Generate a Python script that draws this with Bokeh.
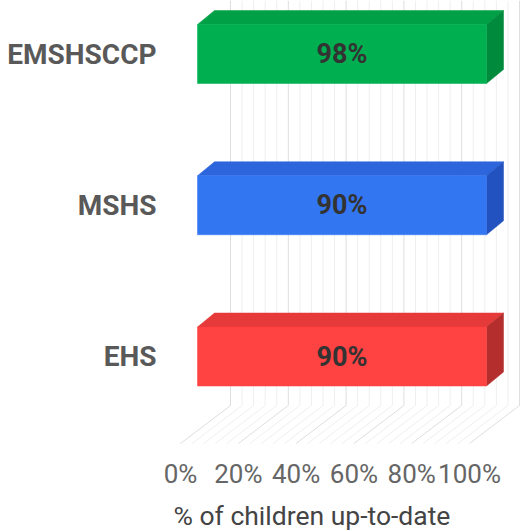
from bokeh.plotting import figure
from bokeh.models import Range1d, FixedTicker, ColumnDataSource, Title
from bokeh.core.properties import value
from bokeh.embed import file_html
from bokeh.resources import INLINE

# ---- data ----
categories = ["EHS", "MSHS", "EMSHSCCP"]
cat_pos = [0, 1, 2]
pct_values = [90, 90, 98]               # data labels
bar_lengths = [100, 100, 100]           # drawn bar extent
label_texts = ["90%", "90%", "98%"]
front_colors = ["#ff4242", "#3376f2", "#00b050"]
top_colors = ["#e63a3a", "#2d66dc", "#00a046"]
side_colors = ["#b52e2e", "#2152bf", "#008a3c"]
x_ticks = [0, 20, 40, 60, 80, 100]
x_tick_labels = ["0%", "20%", "40%", "60%", "80%", "100%"]
x_title = "% of children up-to-date"

# ---- 3D projection geometry (data units) ----
PX_X = 2.89      # px per %
PX_Y = 151.25    # px per category step
FLOOR_DX = 50 / PX_X
FLOOR_DY = 38 / PX_Y
BAR_DXF = 17 / PX_X       # front face offset
BAR_DX = 17 / PX_X        # bar depth
BAR_DY = 14 / PX_Y
BAR_H = 59 / PX_Y
FLOOR_Y = -(443 - 356) / PX_Y
TOP_Y = 356 / PX_Y

p = figure(frame_width=347, frame_height=448, output_backend="svg", toolbar_location=None,
           x_range=Range1d(-7 / PX_X, (520 - 180) / PX_X),
           y_range=Range1d((356 - 448) / PX_Y, TOP_Y),
           min_border_left=173, min_border_right=0, min_border_top=0,
           min_border_bottom=0)
p.outline_line_color = None
p.grid.visible = False
p.background_fill_color = "white"

# back wall and floor grid
grid_steps = list(range(0, 101, 4))
vx, vy, fxs, fys, vcol, fcol = [], [], [], [], [], []
for g in grid_steps:
    major = (g % 20 == 0)
    c = "#dedede" if major else "#efefef"
    vx.append([g + FLOOR_DX, g + FLOOR_DX])
    vy.append([FLOOR_Y + FLOOR_DY, TOP_Y])
    vcol.append(c)
    fxs.append([g, g + FLOOR_DX])
    fys.append([FLOOR_Y, FLOOR_Y + FLOOR_DY])
    fcol.append(c)
p.multi_line(xs=vx, ys=vy, line_color=vcol, line_width=1)
p.multi_line(xs=fxs, ys=fys, line_color=fcol, line_width=1)

# bars
fronts_x, fronts_y, tops_x, tops_y, sides_x, sides_y = [], [], [], [], [], []
for L, c in zip(bar_lengths, cat_pos):
    x0, x1 = BAR_DXF, L + BAR_DXF
    y0, y1 = c - BAR_H / 2, c + BAR_H / 2
    fronts_x.append([x0, x1, x1, x0]); fronts_y.append([y0, y0, y1, y1])
    tops_x.append([x0, x1, x1 + BAR_DX, x0 + BAR_DX]); tops_y.append([y1, y1, y1 + BAR_DY, y1 + BAR_DY])
    sides_x.append([x1, x1 + BAR_DX, x1 + BAR_DX, x1]); sides_y.append([y0, y0 + BAR_DY, y1 + BAR_DY, y1])
p.patches(xs=tops_x, ys=tops_y, fill_color=top_colors, line_color=top_colors, line_width=0.5)
p.patches(xs=sides_x, ys=sides_y, fill_color=side_colors, line_color=side_colors, line_width=0.5)
p.patches(xs=fronts_x, ys=fronts_y, fill_color=front_colors, line_color=front_colors, line_width=0.5)

# data labels
src = ColumnDataSource(dict(x=[L / 2 + BAR_DXF for L in bar_lengths], y=cat_pos, t=label_texts))
p.text(x="x", y="y", text="t", source=src, text_align="center", text_baseline="middle",
       text_font=value("Roboto"), text_font_style="bold", text_font_size="27px", text_color="#333333")

# axes
p.xaxis.ticker = FixedTicker(ticks=x_ticks)
p.xaxis.major_label_overrides = {t: l for t, l in zip(x_ticks, x_tick_labels)}
p.xaxis.axis_line_color = None
p.xaxis.major_tick_line_color = None
p.xaxis.minor_tick_line_color = None
p.xaxis.major_label_text_font = "Roboto"
p.xaxis.major_label_text_font_size = "26px"
p.xaxis.major_label_text_color = "#666666"
p.xaxis.major_label_standoff = 4

# axis title, left-aligned with the plotting frame
p.add_layout(Title(text=x_title, align="left", offset=0, standoff=13,
                   text_font="Roboto", text_font_size="26.5px", text_font_style="normal",
                   text_color="#444444"), "below")

p.yaxis.ticker = FixedTicker(ticks=cat_pos)
p.yaxis.major_label_overrides = {c: n for c, n in zip(cat_pos, categories)}
p.yaxis.axis_line_color = None
p.yaxis.major_tick_line_color = None
p.yaxis.minor_tick_line_color = None
p.yaxis.major_label_text_font = "Roboto"
p.yaxis.major_label_text_font_style = "bold"
p.yaxis.major_label_text_font_size = "28px"
p.yaxis.major_label_text_color = "#595959"
p.yaxis.major_label_standoff = 11

open("out.html", "w").write(file_html(p, INLINE))
